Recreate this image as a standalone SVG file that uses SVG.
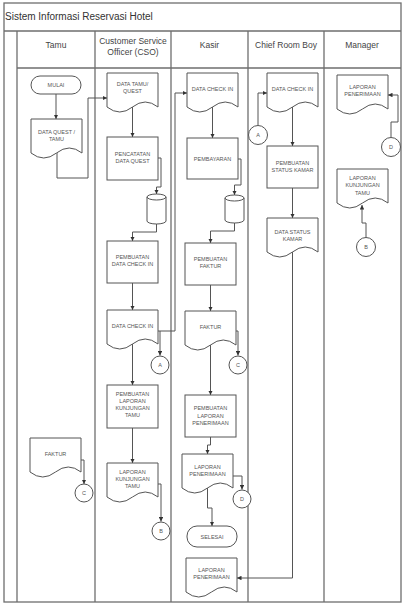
<svg xmlns="http://www.w3.org/2000/svg" xmlns:xlink="http://www.w3.org/1999/xlink" width="405" height="607" viewBox="0 0 405 607">
<style>
.frame{fill:none;stroke:#6e6e6e;stroke-width:1.3}
.shape{fill:#fff;stroke:#555;stroke-width:1}
.conn{fill:none;stroke:#555;stroke-width:1}
.title{font-family:"Liberation Sans",Arial,sans-serif;font-size:10px;fill:#333}
.hdr{font-family:"Liberation Sans",Arial,sans-serif;font-size:8.5px;fill:#444;text-anchor:middle}
.t{font-family:"Liberation Sans",Arial,sans-serif;font-size:5.5px;fill:#555;text-anchor:middle}
</style>
<defs>
<path id="doc" d="M0,0 H51 V34 Q38.25,24 25.5,34 T0,34 Z"/>
<marker id="arr" viewBox="0 0 6 6" refX="6" refY="3" markerWidth="4.5" markerHeight="4.5" markerUnits="userSpaceOnUse" orient="auto">
<path d="M0,0 L6,3 L0,6 Z" fill="#333"/>
</marker>
</defs>
<rect width="405" height="607" fill="#fff"/>
<g id="frame">
<rect class="frame" x="4" y="3" width="397" height="599"/>
<line class="frame" x1="4" y1="31" x2="401" y2="31"/>
<line class="frame" x1="17" y1="68" x2="401" y2="68"/>
<line class="frame" x1="17" y1="31" x2="17" y2="602"/>
<line class="frame" x1="95" y1="31" x2="95" y2="602"/>
<line class="frame" x1="171" y1="31" x2="171" y2="602"/>
<line class="frame" x1="248" y1="31" x2="248" y2="602"/>
<line class="frame" x1="324" y1="31" x2="324" y2="602"/>
<text class="title" x="5" y="19.5">Sistem Informasi Reservasi Hotel</text>
<text class="hdr" x="56" y="48">Tamu</text>
<text class="hdr" x="133" y="44">Customer Service</text>
<text class="hdr" x="133" y="55">Officer (CSO)</text>
<text class="hdr" x="209.5" y="48">Kasir</text>
<text class="hdr" x="286" y="48">Chief Room Boy</text>
<text class="hdr" x="362" y="48">Manager</text>
</g>
<g id="connectors">
<path class="conn" d="M56,94 V119" marker-end="url(#arr)"/>
<path class="conn" d="M57,153 V178 H88 V98 H107" marker-end="url(#arr)"/>
<path class="conn" d="M81,460 H84 V484" marker-end="url(#arr)"/>
<path class="conn" d="M132.5,107 V137" marker-end="url(#arr)"/>
<path class="conn" d="M158,158 H161 V187 H156.5 V194" marker-end="url(#arr)"/>
<path class="conn" d="M156.5,224 V232 H132.5 V241" marker-end="url(#arr)"/>
<path class="conn" d="M132.5,283 V310" marker-end="url(#arr)"/>
<path class="conn" d="M158,331 H175 V93 H187" marker-end="url(#arr)"/>
<path class="conn" d="M160,331 V355.5" marker-end="url(#arr)"/>
<path class="conn" d="M132.5,344 V385" marker-end="url(#arr)"/>
<path class="conn" d="M132.5,428 V463" marker-end="url(#arr)"/>
<path class="conn" d="M158,484 H161 V521.5" marker-end="url(#arr)"/>
<path class="conn" d="M212.5,107 V138" marker-end="url(#arr)"/>
<path class="conn" d="M238,159 H241 V185 H234.5 V195" marker-end="url(#arr)"/>
<path class="conn" d="M234.5,223 V231 H210.5 V243" marker-end="url(#arr)"/>
<path class="conn" d="M210.5,285 V311" marker-end="url(#arr)"/>
<path class="conn" d="M236,331 H238 V355.5" marker-end="url(#arr)"/>
<path class="conn" d="M210.5,345 V395" marker-end="url(#arr)"/>
<path class="conn" d="M210.5,437 V445 H207.5 V454" marker-end="url(#arr)"/>
<path class="conn" d="M233,476 H242 V489.5" marker-end="url(#arr)"/>
<path class="conn" d="M207.5,488 V508 H212 V526" marker-end="url(#arr)"/>
<path class="conn" d="M258,125.5 V93 H267" marker-end="url(#arr)"/>
<path class="conn" d="M292.5,107 V146" marker-end="url(#arr)"/>
<path class="conn" d="M292.5,188 V218" marker-end="url(#arr)"/>
<path class="conn" d="M292.5,252 V578 H237" marker-end="url(#arr)"/>
<path class="conn" d="M391,137.5 V122 H398 V95 H388" marker-end="url(#arr)"/>
<path class="conn" d="M366,237.5 V223 H362 V205" marker-end="url(#arr)"/>
</g>
<g id="mulai">
<rect class="shape" x="31" y="76" width="50" height="18" rx="9"/>
<text class="t" x="56" y="87">MULAI</text>
</g>
<g id="data-quest-tamu">
<use href="#doc" class="shape" x="31" y="119"/>
<text class="t" x="56.5" y="134">DATA QUEST /</text>
<text class="t" x="56.5" y="141">TAMU</text>
</g>
<g id="faktur-tamu">
<use href="#doc" class="shape" x="30" y="438"/>
<text class="t" x="55.5" y="456">FAKTUR</text>
</g>
<g id="c-tamu">
<circle class="shape" cx="84" cy="493" r="9"/>
<text class="t" x="84" y="495">C</text>
</g>
<g id="data-tamu-quest">
<use href="#doc" class="shape" x="107" y="73"/>
<text class="t" x="132.5" y="86">DATA TAMU/</text>
<text class="t" x="132.5" y="93">QUEST</text>
</g>
<g id="pencatatan">
<rect class="shape" x="107" y="137" width="51" height="43"/>
<text class="t" x="132.5" y="156">PENCATATAN</text>
<text class="t" x="132.5" y="163">DATA QUEST</text>
</g>
<g id="db-cso">
<path class="shape" d="M147,197 V221 A9.5,3 0 0 0 166,221 V197 A9.5,3 0 0 0 147,197 Z"/>
<path class="conn" d="M147,197 A9.5,3 0 0 0 166,197"/>
</g>
<g id="pembuatan-data-check-in">
<rect class="shape" x="107" y="241" width="51" height="42"/>
<text class="t" x="132.5" y="259">PEMBUATAN</text>
<text class="t" x="132.5" y="266">DATA CHECK IN</text>
</g>
<g id="data-check-in-cso">
<use href="#doc" class="shape" x="107" y="310"/>
<text class="t" x="132.5" y="328">DATA CHECK IN</text>
</g>
<g id="a-cso">
<circle class="shape" cx="160" cy="365" r="9"/>
<text class="t" x="160" y="367">A</text>
</g>
<g id="pembuatan-laporan-kunjungan">
<rect class="shape" x="107" y="385" width="51" height="43"/>
<text class="t" x="132.5" y="396">PEMBUATAN</text>
<text class="t" x="132.5" y="403">LAPORAN</text>
<text class="t" x="132.5" y="410">KUNJUNGAN</text>
<text class="t" x="132.5" y="417">TAMU</text>
</g>
<g id="laporan-kunjungan-cso">
<use href="#doc" class="shape" x="107" y="463"/>
<text class="t" x="132.5" y="474">LAPORAN</text>
<text class="t" x="132.5" y="481">KUNJUNGAN</text>
<text class="t" x="132.5" y="488">TAMU</text>
</g>
<g id="b-cso">
<circle class="shape" cx="161" cy="531" r="9"/>
<text class="t" x="161" y="533">B</text>
</g>
<g id="data-check-in-kasir">
<use href="#doc" class="shape" x="187" y="73"/>
<text class="t" x="212.5" y="91">DATA CHECK IN</text>
</g>
<g id="pembayaran">
<rect class="shape" x="187" y="138" width="51" height="41"/>
<text class="t" x="212.5" y="161">PEMBAYARAN</text>
</g>
<g id="db-kasir">
<path class="shape" d="M225,198 V220 A9.5,3 0 0 0 244,220 V198 A9.5,3 0 0 0 225,198 Z"/>
<path class="conn" d="M225,198 A9.5,3 0 0 0 244,198"/>
</g>
<g id="pembuatan-faktur">
<rect class="shape" x="185" y="243" width="51" height="42"/>
<text class="t" x="210.5" y="261">PEMBUATAN</text>
<text class="t" x="210.5" y="268">FAKTUR</text>
</g>
<g id="faktur-kasir">
<use href="#doc" class="shape" x="185" y="311"/>
<text class="t" x="210.5" y="329">FAKTUR</text>
</g>
<g id="c-kasir">
<circle class="shape" cx="238" cy="365" r="9"/>
<text class="t" x="238" y="367">C</text>
</g>
<g id="pembuatan-laporan-penerimaan">
<rect class="shape" x="185" y="395" width="51" height="42"/>
<text class="t" x="210.5" y="410">PEMBUATAN</text>
<text class="t" x="210.5" y="418">LAPORAN</text>
<text class="t" x="210.5" y="425">PENERIMAAN</text>
</g>
<g id="laporan-penerimaan-kasir">
<use href="#doc" class="shape" x="182" y="454"/>
<text class="t" x="207.5" y="469">LAPORAN</text>
<text class="t" x="207.5" y="476">PENERIMAAN</text>
</g>
<g id="d-kasir">
<circle class="shape" cx="242" cy="499" r="9"/>
<text class="t" x="242" y="501">D</text>
</g>
<g id="selesai">
<rect class="shape" x="187" y="526" width="50" height="21" rx="10"/>
<text class="t" x="212" y="538.5">SELESAI</text>
</g>
<g id="laporan-penerimaan-kasir-2">
<use href="#doc" class="shape" x="186" y="558"/>
<text class="t" x="211.5" y="572">LAPORAN</text>
<text class="t" x="211.5" y="579">PENERIMAAN</text>
</g>
<g id="a-crb">
<circle class="shape" cx="258" cy="135" r="9.5"/>
<text class="t" x="258" y="137">A</text>
</g>
<g id="data-check-in-crb">
<use href="#doc" class="shape" x="267" y="73"/>
<text class="t" x="292.5" y="91">DATA CHECK IN</text>
</g>
<g id="pembuatan-status-kamar">
<rect class="shape" x="267" y="146" width="51" height="42"/>
<text class="t" x="292.5" y="165">PEMBUATAN</text>
<text class="t" x="292.5" y="172">STATUS KAMAR</text>
</g>
<g id="data-status-kamar">
<use href="#doc" class="shape" x="267" y="218"/>
<text class="t" x="292.5" y="234">DATA STATUS</text>
<text class="t" x="292.5" y="241">KAMAR</text>
</g>
<g id="laporan-penerimaan-manager">
<use href="#doc" class="shape" x="337" y="75"/>
<text class="t" x="362.5" y="89">LAPORAN</text>
<text class="t" x="362.5" y="96">PENERIMAAN</text>
</g>
<g id="d-manager">
<circle class="shape" cx="391" cy="147" r="9.5"/>
<text class="t" x="391" y="149">D</text>
</g>
<g id="laporan-kunjungan-manager">
<use href="#doc" class="shape" x="337" y="169"/>
<text class="t" x="362.5" y="180">LAPORAN</text>
<text class="t" x="362.5" y="187">KUNJUNGAN</text>
<text class="t" x="362.5" y="195">TAMU</text>
</g>
<g id="b-manager">
<circle class="shape" cx="366" cy="247" r="9.5"/>
<text class="t" x="366" y="249">B</text>
</g>
</svg>
